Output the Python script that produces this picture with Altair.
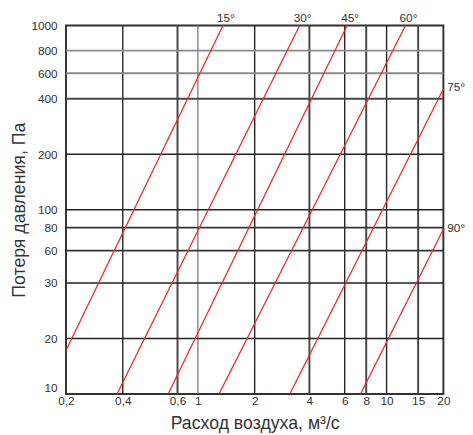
import altair as alt
import pandas as pd

# ---- axis ticks as they appear in the picture ----
x_ticks = [0.2, 0.4, 0.78, 1, 2, 3.9, 6, 7.8, 10, 14.7, 20]
x_tick_labels = ["0,2", "0,4", "0,6", "1", "2", "4", "6", "8", "10", "15", "20"]
y_ticks = [10, 20, 40, 60, 80, 100, 200, 400, 550, 730, 1000]
y_tick_labels = ["10", "20", "30", "60", "80", "100", "200", "400", "600", "800", "1000"]

# ---- damper curves (start / end points) ----
angles = ["15°", "30°", "45°", "60°", "75°", "90°"]
flow_start = [0.2, 0.373, 0.696, 1.294, 3.07, 7.28]
loss_start = [17.2, 10, 10, 10, 10, 10]
flow_end = [1.358, 3.46, 6.18, 12.6, 20, 20]
loss_end = [1000, 1000, 1000, 1000, 452, 78.3]

# ---- grid line tones ----
x_grid_tone = ["frame", "thin", "heavy", "light", "thin", "heavy", "thin", "heavy", "thin", "heavy", "frame"]
y_grid_tone = ["frame", "thin", "thin", "mid", "mid", "thin", "thin", "heavy", "gray", "gray", "frame"]
tone_style = {
    "thin": ("#222222", 1.4),
    "mid": ("#333333", 1.7),
    "heavy": ("#474747", 2.0),
    "light": ("#7a7a7a", 1.3),
    "gray": ("#8a8a8a", 2.0),
}

FONT = "Liberation Sans"
RED = "#f22626"
XTITLE = "Расход воздуха, м³/с"
YTITLE = "Потеря давления, Па"

xs = alt.Scale(type="log", domain=[0.2, 20], nice=False)
ys = alt.Scale(type="log", domain=[10, 1000], nice=False)

lines_rows = []
for a, f0, l0, f1, l1 in zip(angles, flow_start, loss_start, flow_end, loss_end):
    lines_rows.append({"angle": a, "flow": f0, "loss": l0, "o": 0})
    lines_rows.append({"angle": a, "flow": f1, "loss": l1, "o": 1})
lines_df = pd.DataFrame(lines_rows)

ends_df = pd.DataFrame({"angle": angles, "flow": flow_end, "loss": loss_end})
top_df = ends_df[ends_df["loss"] >= 1000]
side_df = ends_df[ends_df["loss"] < 1000]

xg = pd.DataFrame([
    {"v": v, "c": tone_style[t][0], "w": tone_style[t][1]}
    for v, t in zip(x_ticks, x_grid_tone) if t != "frame"
])
yg = pd.DataFrame([
    {"v": v, "c": tone_style[t][0], "w": tone_style[t][1]}
    for v, t in zip(y_ticks, y_grid_tone) if t != "frame"
])

def label_expr(vals, labels):
    v = "[" + ",".join(repr(float(x)) for x in vals) + "]"
    l = "[" + ",".join("'" + s + "'" for s in labels) + "]"
    return f"{l}[indexof({v}, datum.value)]"

x_axis = alt.Axis(
    values=x_ticks, labelExpr=label_expr(x_ticks, x_tick_labels),
    grid=False, domain=False, ticks=False, labelFlush=False, labelOverlap=False,
    labelFont=FONT, labelFontSize=12, labelColor="#333", labelPadding=2,
    title=XTITLE, titleFont=FONT, titleFontSize=18,
    titleFontWeight="normal", titleColor="#333", titleX=192, titleY=35,
    titleBaseline="alphabetic",
)
y_axis = alt.Axis(
    values=y_ticks, labelExpr=label_expr(y_ticks, y_tick_labels),
    grid=False, domain=False, ticks=False, labelFlush=False, labelOverlap=False,
    labelFont=FONT, labelFontSize=12, labelColor="#333", labelPadding=9,
    labelBaseline={"condition": {"test": "datum.value == 10", "value": "bottom"}, "value": "middle"},
    title=YTITLE, titleFont=FONT, titleFontSize=18,
    titleFontWeight="normal", titleColor="#333", titleX=-42, titleY=187.5,
    titleBaseline="alphabetic", titleAngle=-90,
)

vrules = alt.Chart(xg).mark_rule().encode(
    x=alt.X("v:Q", scale=xs, axis=x_axis, title=XTITLE),
    color=alt.Color("c:N", scale=None),
    strokeWidth=alt.StrokeWidth("w:Q", scale=None),
)
hrules = alt.Chart(yg).mark_rule().encode(
    y=alt.Y("v:Q", scale=ys, axis=y_axis, title=YTITLE),
    color=alt.Color("c:N", scale=None),
    strokeWidth=alt.StrokeWidth("w:Q", scale=None),
)

curves = alt.Chart(lines_df).mark_line(color=RED, strokeWidth=1.3).encode(
    x=alt.X("flow:Q", scale=xs, axis=x_axis, title=XTITLE),
    y=alt.Y("loss:Q", scale=ys, axis=y_axis, title=YTITLE),
    detail="angle:N",
    order="o:Q",
)

top_labels = alt.Chart(top_df).mark_text(
    font=FONT, fontSize=12, color="#333", align="center", baseline="alphabetic", dx=3, dy=-3.5
).encode(
    x=alt.X("flow:Q", scale=xs, axis=x_axis, title=XTITLE),
    y=alt.Y("loss:Q", scale=ys, axis=y_axis, title=YTITLE),
    text="angle:N",
)
side_labels = alt.Chart(side_df).mark_text(
    font=FONT, fontSize=12, color="#333", align="left", baseline="middle", dx=4, dy=-1.5
).encode(
    x=alt.X("flow:Q", scale=xs, axis=x_axis, title=XTITLE),
    y=alt.Y("loss:Q", scale=ys, axis=y_axis, title=YTITLE),
    text="angle:N",
)

chart = alt.layer(vrules, hrules, curves, top_labels, side_labels).properties(
    width=384,
    height=375,
    autosize=alt.AutoSizeParams(type="none"),
    padding={"left": 59, "top": 14, "right": 22, "bottom": 38},
    background="white",
).configure_view(stroke="#333", strokeWidth=2)

chart.save("out.html", embed_options={"renderer": "svg", "actions": False})
